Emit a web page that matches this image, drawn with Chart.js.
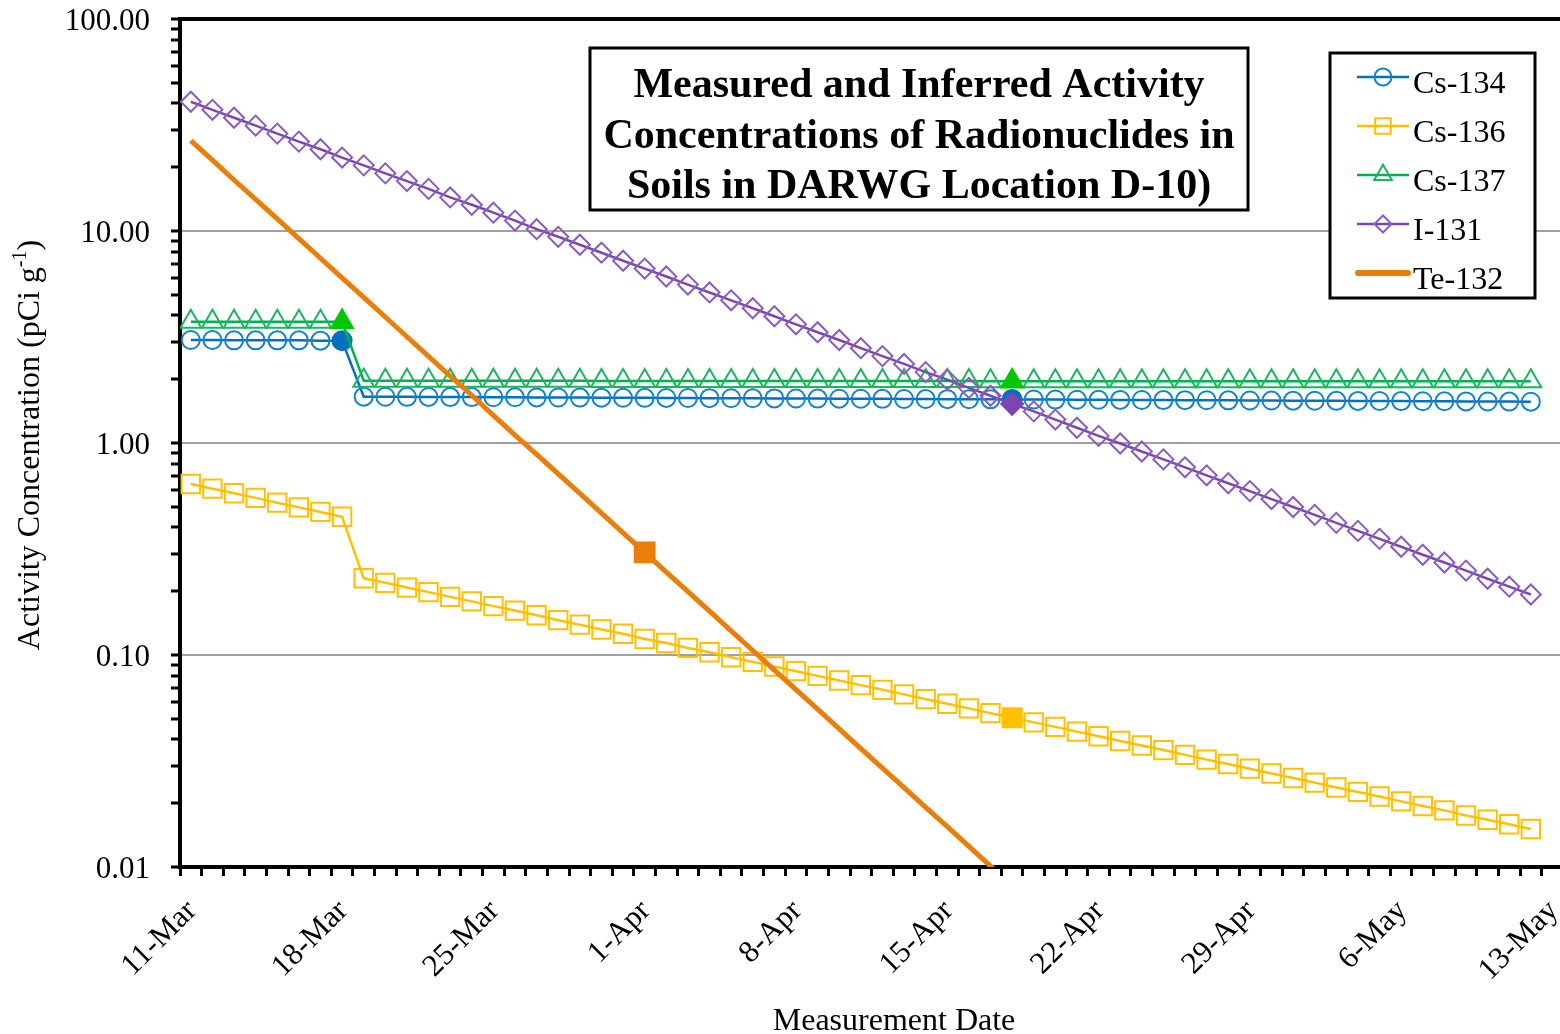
<!DOCTYPE html>
<html>
<head>
<meta charset="utf-8">
<script src="https://cdn.jsdelivr.net/npm/chart.js@4.4.1/dist/chart.umd.min.js"></script>
<style>
  html, body { margin: 0; padding: 0; overflow: hidden; background: #fff; width: 1560px; height: 1034px; }
  #wrap { position: absolute; left: 0; top: 0; width: 1608px; height: 1034px; }
</style>
</head>
<body>
<div id="wrap"><canvas id="c" width="1608" height="1034"></canvas></div>
<script>
// ---- Data (days after 11-Mar, sampled daily at noon) ----
const measureDay = [0.5,1.5,2.5,3.5,4.5,5.5,6.5,7.5,8.5,9.5,10.5,11.5,12.5,13.5,14.5,15.5,16.5,17.5,18.5,19.5,
  20.5,21.5,22.5,23.5,24.5,25.5,26.5,27.5,28.5,29.5,30.5,31.5,32.5,33.5,34.5,35.5,36.5,37.5,38.5,39.5,
  40.5,41.5,42.5,43.5,44.5,45.5,46.5,47.5,48.5,49.5,50.5,51.5,52.5,53.5,54.5,55.5,56.5,57.5,58.5,59.5,
  60.5,61.5,62.5];

const cs134 = [3.06,3.06,3.05,3.05,3.05,3.05,3.04,3.04,
  1.654,1.652,1.651,1.649,1.647,1.646,1.644,1.643,1.641,1.639,
  1.638,1.636,1.634,1.633,1.631,1.630,1.628,1.626,1.625,1.623,
  1.621,1.620,1.618,1.617,1.615,1.613,1.612,1.610,1.608,1.607,
  1.605,1.604,1.602,1.600,1.599,1.597,1.595,1.594,1.592,1.591,
  1.589,1.587,1.586,1.584,1.582,1.581,1.579,1.578,1.576,1.574,
  1.573,1.571,1.569,1.568,1.566];

const cs136 = [0.641,0.609,0.579,0.551,0.523,0.497,0.473,0.449,
  0.230,0.219,0.208,0.198,0.188,0.179,0.170,0.162,0.154,0.146,
  0.139,0.132,0.126,0.119,0.114,0.108,0.103,0.0976,0.0928,0.0882,
  0.0839,0.0797,0.0758,0.0721,0.0685,0.0652,0.0619,0.0589,0.0560,0.0532,
  0.0506,0.0481,0.0458,0.0435,0.0414,0.0393,0.0374,0.0356,0.0338,0.0321,
  0.0306,0.0291,0.0276,0.0263,0.0250,0.0237,0.0226,0.0215,0.0204,0.0194,
  0.0185,0.0175,0.0167,0.0159,0.0151];

const cs137 = [3.73,3.73,3.73,3.73,3.73,3.73,3.73,3.73,
  1.967,1.967,1.966,1.966,1.966,1.965,1.965,1.965,1.964,1.964,
  1.964,1.963,1.963,1.963,1.962,1.962,1.962,1.961,1.961,1.961,
  1.960,1.960,1.960,1.960,1.959,1.959,1.959,1.959,1.959,1.958,
  1.958,1.958,1.958,1.958,1.958,1.957,1.957,1.957,1.957,1.957,
  1.957,1.957,1.957,1.956,1.956,1.956,1.956,1.956,1.956,1.956,
  1.956,1.956,1.955,1.955,1.955];

const i131 = [40.7,37.3,34.2,31.4,28.8,26.4,24.3,22.2,20.4,18.7,
  17.2,15.8,14.4,13.3,12.2,11.2,10.2,9.39,8.61,7.90,
  7.24,6.65,6.10,5.59,5.13,4.71,4.32,3.96,3.63,3.33,
  3.06,2.80,2.57,2.36,2.16,1.99,1.82,1.67,1.53,1.41,
  1.29,1.18,1.08,0.995,0.912,0.837,0.768,0.704,0.646,0.593,
  0.544,0.499,0.458,0.420,0.385,0.353,0.324,0.297,0.273,0.250,
  0.229,0.210,0.193];

const te132 = [26.7,21.6,17.4,14.1,11.4,9.21,7.44,6.01,4.86,3.93,
  3.17,2.56,2.07,1.68,1.35,1.09,0.884,0.715,0.578,0.467,
  0.377,0.305,0.246,0.199,0.161,0.130,0.105,0.0849,0.0686,0.0555,
  0.0448,0.0362,0.0293,0.0237,0.0191,0.0155,0.0125,0.0101,0.00816,0.00660,
  0.00533,0.00431,0.00348,0.00281,0.00227,0.00184,0.00149,0.00120,0.00097,0.00078,
  0.00063,0.00051,0.00041,0.00034,0.00027,0.00022,0.00018,0.00014,0.00012,0.000093,
  0.000075,0.000061,0.000049];

// indices of measured (filled) points
const cs134Measured = [7, 38];
const cs136Measured = [38];
const cs137Measured = [7, 38];
const i131Measured = [38];
const te132Measured = [21];

// axis ticks
const tickDays = [0, 7, 14, 21, 28, 35, 42, 49, 56, 63];
const tickLabels = ['11-Mar','18-Mar','25-Mar','1-Apr','8-Apr','15-Apr','22-Apr','29-Apr','6-May','13-May'];
const yDecades = [0.01, 0.1, 1, 10, 100];

const titleLines = ['Measured and Inferred Activity', 'Concentrations of Radionuclides in', 'Soils in DARWG Location D-10)'];
const xTitle = 'Measurement Date';
const yTitleMain = 'Activity Concentration (pCi g';
const yTitleSup = '-1';
const yTitleEnd = ')';

// ---- helpers ----
const SERIF = '"Liberation Serif", "Times New Roman", serif';
Chart.defaults.font.family = SERIF;
Chart.defaults.color = '#000';

const xMinorTicks = Array.from({length: 64}, (_, i) => i);
const yAllTicks = [];
yDecades.forEach((d, k) => {
  if (k < yDecades.length - 1) { for (let n = 1; n <= 9; n++) yAllTicks.push(+(n * d).toPrecision(6)); }
  else yAllTicks.push(d);
});
const isDecade = v => Math.abs(Math.log10(v) - Math.round(Math.log10(v))) < 1e-6;

const pts = vals => vals.map((v, i) => ({x: measureDay[i], y: v}));
const has = (arr, c) => c.dataIndex !== undefined && arr.includes(c.dataIndex);

function series(label, vals, measured, o) {
  return {
    label, data: pts(vals), order: o.order,
    borderColor: o.line, borderWidth: o.lineWidth,
    pointStyle: o.style,
    pointRadius: c => has(measured, c) ? o.rFilled : o.r,
    pointBorderWidth: 2,
    pointBorderColor: c => has(measured, c) ? o.fill : o.marker,
    pointBackgroundColor: c => has(measured, c) ? o.fill : 'rgba(0,0,0,0)',
    tension: 0, fill: false,
    _legend: o
  };
}

const datasets = [
  series('Cs-134', cs134, cs134Measured, {order: 5, line: '#0070C0', marker: '#1283CC', fill: '#0070C0', lineWidth: 2.5, style: 'circle', r: 9, rFilled: 9.5}),
  series('Cs-136', cs136, cs136Measured, {order: 4, line: '#FFC000', marker: '#FFC000', fill: '#FFC000', lineWidth: 2.5, style: 'rect', r: 13, rFilled: 13.5}),
  series('Cs-137', cs137, cs137Measured, {order: 3, line: '#00B050', marker: '#1DB45F', fill: '#00C800', lineWidth: 2.5, style: 'triangle', r: 12, rFilled: 12.5}),
  series('I-131', i131, i131Measured, {order: 2, line: '#7D45B2', marker: '#8A5CC0', fill: '#7D45B2', lineWidth: 2.5, style: 'rectRot', r: 10, rFilled: 11}),
  series('Te-132', te132, te132Measured, {order: 1, line: '#EA7E08', marker: '#EA7E08', fill: '#EA7E08', lineWidth: 5, style: 'rect', r: 0, rFilled: 14})
];

function drawMarker(ctx, style, x, y, r) {
  ctx.beginPath();
  if (style === 'circle') ctx.arc(x, y, r, 0, Math.PI * 2);
  else if (style === 'rect') { const s = r * Math.SQRT1_2; ctx.rect(x - s, y - s, 2 * s, 2 * s); }
  else if (style === 'triangle') {
    for (let k = 0; k < 3; k++) {
      const a = k * 2 * Math.PI / 3;
      const px = x + Math.sin(a) * r, py = y - Math.cos(a) * r;
      if (k === 0) ctx.moveTo(px, py); else ctx.lineTo(px, py);
    }
    ctx.closePath();
  } else if (style === 'rectRot') {
    ctx.moveTo(x - r, y); ctx.lineTo(x, y - r); ctx.lineTo(x + r, y); ctx.lineTo(x, y + r); ctx.closePath();
  }
}

const overlay = {
  id: 'overlay',
  afterDraw(chart) {
    const ctx = chart.ctx;
    ctx.save();
    // title box
    ctx.fillStyle = '#fff';
    ctx.fillRect(590, 48, 658, 162);
    ctx.lineWidth = 3; ctx.strokeStyle = '#000';
    ctx.strokeRect(590, 48, 658, 162);
    ctx.fillStyle = '#000';
    ctx.font = 'bold 42px ' + SERIF;
    ctx.textAlign = 'center'; ctx.textBaseline = 'alphabetic';
    titleLines.forEach((t, k) => ctx.fillText(t, 919, 97 + 50.5 * k));

    // legend box
    ctx.fillStyle = '#fff';
    ctx.fillRect(1330, 53, 205, 245);
    ctx.lineWidth = 3; ctx.strokeStyle = '#000';
    ctx.strokeRect(1330, 53, 205, 245);
    chart.data.datasets.forEach((ds, k) => {
      const o = ds._legend;
      const y = 77 + 49 * k;
      ctx.beginPath();
      ctx.lineWidth = o.lineWidth === 5 ? 6 : 2.5;
      ctx.lineCap = o.lineWidth === 5 ? 'round' : 'butt';
      ctx.strokeStyle = o.line;
      ctx.moveTo(o.lineWidth === 5 ? 1358 : 1357, y); ctx.lineTo(o.lineWidth === 5 ? 1408 : 1409, y);
      ctx.stroke();
      if (o.r > 0) {
        ctx.lineWidth = 2; ctx.strokeStyle = o.marker;
        drawMarker(ctx, o.style, 1383, y, o.style === 'circle' ? 8.5 : o.r * 0.85);
        ctx.stroke();
      }
      ctx.fillStyle = '#000';
      ctx.font = '32px ' + SERIF;
      ctx.textAlign = 'left'; ctx.textBaseline = 'alphabetic';
      ctx.fillText(ds.label, 1413, y + 16);
    });

    // y-axis title with superscript
    ctx.translate(31, 445);
    ctx.rotate(-Math.PI / 2);
    ctx.fillStyle = '#000';
    ctx.textBaseline = 'middle'; ctx.textAlign = 'left';
    const big = '32px ' + SERIF, small = '20px ' + SERIF;
    ctx.font = big; const wa = ctx.measureText(yTitleMain).width; const wb = ctx.measureText(yTitleEnd).width;
    ctx.font = small; const ws = ctx.measureText(yTitleSup).width;
    let x0 = -(wa + ws + wb) / 2;
    ctx.font = big; ctx.fillText(yTitleMain, x0, 0);
    ctx.font = small; ctx.fillText(yTitleSup, x0 + wa, -10);
    ctx.font = big; ctx.fillText(yTitleEnd, x0 + wa + ws, 0);
    ctx.restore();
  }
};

const noPad = axis => { axis.paddingLeft = 0; axis.paddingRight = 0; axis.paddingTop = 0; axis.paddingBottom = 0; };

new Chart(document.getElementById('c'), {
  type: 'line',
  data: { datasets },
  plugins: [overlay],
  options: {
    responsive: false, animation: false, events: [], devicePixelRatio: 1,
    layout: { padding: { top: 19, left: 0, right: 0, bottom: 0 }, autoPadding: false },
    plugins: { legend: { display: false }, tooltip: { enabled: false }, title: { display: false } },
    scales: {
      x: {
        type: 'linear', min: 0, max: 66.07,
        afterBuildTicks: axis => { axis.ticks = xMinorTicks.map(v => ({ value: v })); },
        afterFit: axis => { axis.height = 167; noPad(axis); },
        ticks: {
          autoSkip: false, minRotation: 45, maxRotation: 45, padding: 17, labelOffset: 12, color: '#000',
          font: { size: 31 },
          callback: v => { const k = tickDays.indexOf(v); return k >= 0 ? tickLabels[k] : ''; }
        },
        grid: { display: true, drawOnChartArea: false, drawTicks: true, tickLength: 9, tickWidth: 3, tickColor: '#000' },
        border: { display: true, color: '#000', width: 4 },
        title: { display: true, text: xTitle, color: '#000', font: { size: 32, lineHeight: 1 }, padding: { top: 0, bottom: -4 } }
      },
      y: {
        type: 'logarithmic', min: 0.01, max: 100,
        afterBuildTicks: axis => { axis.ticks = yAllTicks.map(v => ({ value: v })); },
        afterFit: axis => { axis.width = 180; noPad(axis); },
        ticks: {
          autoSkip: false, padding: 21, labelOffset: 3, color: '#000', font: { size: 31 },
          callback: v => isDecade(v) ? v.toFixed(2) : ''
        },
        grid: {
          drawOnChartArea: true, drawTicks: true, tickLength: 9, tickWidth: 3, tickColor: '#000',
          color: c => { const v = c.tick && c.tick.value; if (v === undefined) return 'rgba(0,0,0,0)'; if (v >= 99) return '#000'; return isDecade(v) ? '#a0a0a0' : 'rgba(0,0,0,0)'; },
          lineWidth: c => { const v = c.tick && c.tick.value; if (v !== undefined && v >= 99) return 4; return 2; }
        },
        border: { display: true, color: '#000', width: 4 }
      }
    }
  }
});
</script>
</body>
</html>
